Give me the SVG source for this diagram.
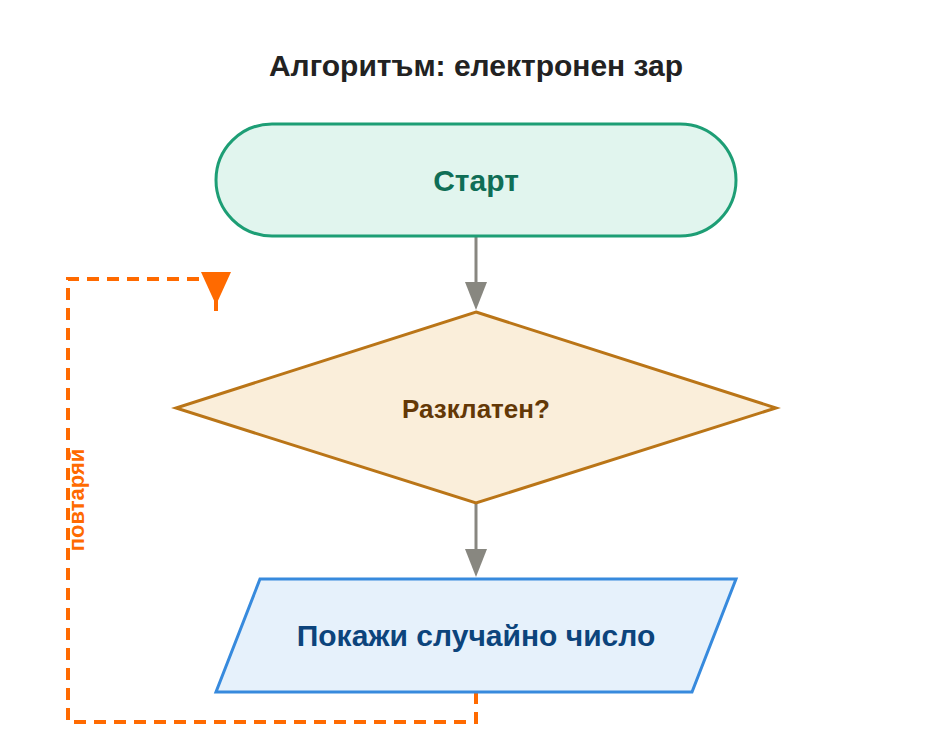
<svg xmlns="http://www.w3.org/2000/svg" width="952" height="756" viewBox="0 0 952 756">
<style>
text{font-family:"Liberation Sans",Arial,sans-serif;font-weight:bold;text-anchor:middle}
.c{stroke:#888780;stroke-width:3;fill:none}
</style>
<defs>
<marker id="ag" viewBox="0 0 10 10" refX="9" refY="5" markerWidth="8" markerHeight="8" markerUnits="userSpaceOnUse" orient="auto">
</marker>
</defs>
<rect width="952" height="756" fill="#fff"/>
<text x="476" y="76" font-size="30" fill="#222">Алгоритъм: електронен зар</text>
<g id="connectors">
<line class="c" x1="476" y1="236" x2="476" y2="285"/>
<polygon points="465,282 487,282 476,310" fill="#888780"/>
<line class="c" x1="476" y1="503" x2="476" y2="552"/>
<polygon points="465,549 487,549 476,577" fill="#888780"/>
<polyline points="476,692 476,722 68,722 68,279 210,279" fill="none" stroke="#ff6a00" stroke-width="4" stroke-dasharray="12,8"/>
<polygon points="201,272 231,272 216,305" fill="#ff6a00"/>
<line x1="216" y1="300" x2="216" y2="311" stroke="#ff6a00" stroke-width="4"/>
<text transform="translate(76,500) rotate(-90)" font-size="22" fill="#ff6a00" dy="8">повтаряй</text>
</g>
<g id="start">
<rect x="216" y="124" width="520" height="112" rx="56" fill="#e1f5ee" stroke="#1d9e75" stroke-width="3"/>
<text x="476" y="191" font-size="30" fill="#0f6e56">Старт</text>
</g>
<g id="decision">
<polygon points="476,312 776,408 476,503 176,408" fill="#faeeda" stroke="#ba7517" stroke-width="3"/>
<text x="476" y="418" font-size="26" fill="#633806">Разклатен?</text>
</g>
<g id="output">
<polygon points="260,579 736,579 692,692 216,692" fill="#e6f1fb" stroke="#378add" stroke-width="3"/>
<text x="476" y="646" font-size="30" fill="#0c447c">Покажи случайно число</text>
</g>
</svg>
